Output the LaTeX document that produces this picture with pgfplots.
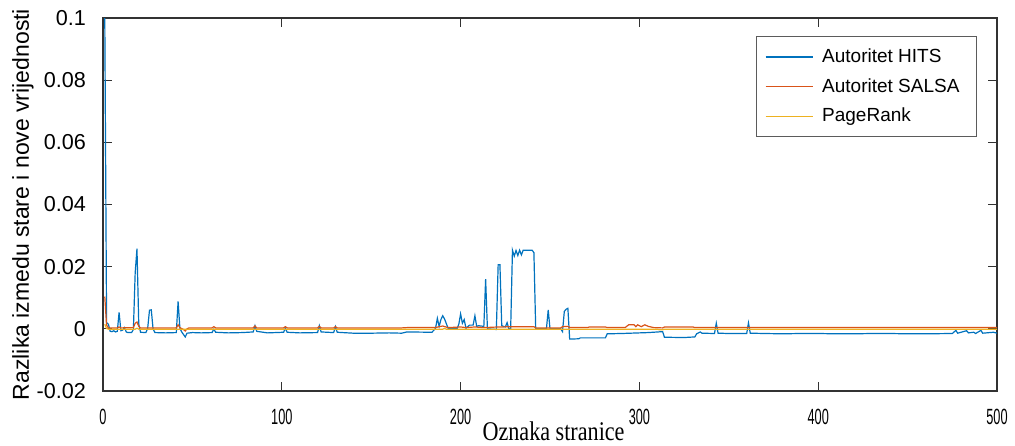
\documentclass[border=0pt]{standalone}
\usepackage{fontspec}
\setmainfont{Liberation Sans}
\newfontfamily\seriffont{Liberation Serif}
\usepackage{graphicx}
\usepackage{pgfplots}
\pgfplotsset{compat=1.18}
\definecolor{hits}{RGB}{0,114,189}
\definecolor{salsa}{RGB}{217,83,25}
\definecolor{prank}{RGB}{237,177,32}
\definecolor{axgray}{RGB}{50,50,50}
\newcommand{\xl}[1]{\scalebox{0.58}[1]{#1}}
\begin{document}
\begin{tikzpicture}
\begin{axis}[name=ax, scale only axis, width=447pt, height=186.5pt,
  xmin=0, xmax=500, ymin=-0.02, ymax=0.1,
  xtick={0,100,200,300,400,500},
  xticklabels={\xl{0},\xl{100},\xl{200},\xl{300},\xl{400},\xl{500}},
  ytick={-0.02,0,0.02,0.04,0.06,0.08,0.1},
  yticklabels={-0.02,0,0.02,0.04,0.06,0.08,0.1},
  tick pos=both, tick align=inside, major tick length=4.5pt,
  axis line style={axgray, line width=0.6pt},
  tick style={axgray, line width=0.5pt},
  xticklabel style={font=\fontsize{11}{12}\selectfont, yshift=-5.5pt},
  yticklabel style={font=\fontsize{10.8}{12}\selectfont, xshift=-5pt},
  ylabel={Razlika izmedu stare i nove vrijednosti},
  ylabel style={font=\fontsize{11.5}{13}\selectfont, at={(axis description cs:-0.0895,0.5)}, anchor=center},
  xlabel={\scalebox{0.82}[1]{\seriffont\fontsize{13.5}{14}\selectfont Oznaka stranice}},
  xlabel style={at={(axis description cs:0.504,0)}, anchor=base, yshift=-24.8pt},
  legend style={at={(rel axis cs:0.9776,0.9517)}, anchor=north east,
    draw=axgray!80, line width=0.5pt, font=\fontsize{9.5}{11}\selectfont,
    inner xsep=4pt, inner ysep=4pt, row sep=2.5pt, cells={anchor=west},
    nodes={inner xsep=4.5pt}},
  legend image code/.code={\draw[#1] (0pt,0pt) -- (23.5pt,0pt);},
  every axis plot/.append style={line width=0.6pt, no markers, sharp plot},
]
\addplot[hits] coordinates {
(1,0.1) (2,0.002) (3,0.0015) (4,-0.0008) (5,-0.0009) (6,-0.0006) (7,-0.0010) (8,-0.0008)
(9,0.0053) (10,-0.0006) (11,-0.0004) (12,0.0004) (13,-0.0010) (14,-0.0012) (16,-0.0012)
(17,-0.0002) (18,0.018) (19,0.0258) (20,0.0015) (21,-0.0011) (24,-0.0012) (25,0.0002)
(26,0.006) (27,0.0061) (28,0.0) (29,-0.0012) (35,-0.0013) (41,-0.0012) (42,0.0088)
(43,0.0002) (44,-0.0010) (46,-0.0026) (47,-0.0014) (50,-0.0012) (55,-0.0013) (61,-0.0012)
(62,-0.0001) (63,-0.0011) (70,-0.0013) (78,-0.0012) (84,-0.0010) (85,0.0010) (86,-0.0008)
(92,-0.0013) (101,-0.0011) (102,0.0002) (103,-0.0011) (110,-0.0013) (120,-0.0012)
(121,0.0010) (122,-0.0010) (129,-0.0012) (130,0.0007) (131,-0.0011) (140,-0.0014)
(150,-0.0014) (160,-0.0013) (167,-0.0014) (170,-0.0010) (184,-0.0011) (186,0.0002)
(187,0.0034) (188,0.0008) (189,0.003) (190,0.0042) (191,0.0032) (193,0.0002) (198,0.0)
(199,0.0015) (200,0.0048) (201,0.0018) (202,0.003) (203,0.0002) (205,0.0012) (207,0.0012)
(208,0.0042) (209,0.0008) (210,0.001) (213,0.0008) (214,0.016) (215,0.0) (220,-0.0002)
(221,0.0206) (222,0.0206) (223,0.001) (225,0.0006) (226,0.002) (227,0.0) (228,0.0)
(229,0.0253) (230,0.0234) (231,0.0252) (232,0.0236) (233,0.0253) (234,0.0238) (235,0.0253)
(240,0.0253) (241,0.0245) (242,0.0) (248,0.0) (249,0.0061) (250,0.0) (256,0.0)
(257,-0.0009) (258,0.0056) (259,0.0063) (260,0.0066) (261,-0.0033) (266,-0.0032)
(267,-0.0029) (281,-0.0029) (282,-0.0016) (290,-0.0015) (300,-0.0013) (305,-0.0012)
(313,-0.0009) (314,-0.0027) (325,-0.0028) (331,-0.0026) (332,-0.0016) (334,-0.0010)
(335,-0.0014) (342,-0.0015) (343,0.0018) (344,-0.0014) (350,-0.0015) (360,-0.0015)
(361,0.0019) (362,-0.0014) (370,-0.0015) (380,-0.0016) (390,-0.0015) (400,-0.0015)
(410,-0.0016) (420,-0.0016) (430,-0.0015) (440,-0.0015) (450,-0.0016) (460,-0.0016)
(475,-0.0015) (477,-0.0005) (478,-0.0014) (483,-0.0006) (484,-0.0013) (487,-0.0011)
(488,-0.0015) (491,-0.0005) (492,-0.0014) (498,-0.0011) (500,-0.0014)
};
\addlegendentry{Autoritet HITS}
\addplot[salsa] coordinates {
(1,0.0104) (2,0.0012) (3,0.0003) (8,0.0003) (9,0.0006) (10,0.0003) (17,0.0004) (18,0.0018)
(19,0.0022) (20,0.0008) (21,0.0003) (41,0.0003) (42,0.0013) (43,0.0004) (45,-0.0002)
(46,-0.0007) (47,0.0000) (48,0.0003) (61,0.0003) (62,0.0007) (63,0.0003) (84,0.0003)
(85,0.0009) (86,0.0003) (101,0.0003) (102,0.0007) (103,0.0003) (120,0.0003) (121,0.0008)
(122,0.0003) (129,0.0003) (130,0.0007) (131,0.0003) (167,0.0003) (170,0.0004) (186,0.0004)
(188,0.0007) (190,0.0009) (193,0.0004) (200,0.0006) (203,0.0004) (208,0.0006) (213,0.0004)
(221,0.0006) (223,0.0006) (228,0.0007) (241,0.0007) (242,0.0003) (256,0.0003) (257,0.0007)
(260,0.0008) (261,0.0004) (271,0.0004) (272,0.0006) (281,0.0006) (282,0.0004) (292,0.0004)
(294,0.0013) (297,0.0013) (298,0.0007) (299,0.0013) (301,0.0007) (303,0.0013) (305,0.0008)
(308,0.0004) (313,0.0003) (314,0.0006) (330,0.0006) (331,0.0004) (500,0.0004)
};
\addlegendentry{Autoritet SALSA}
\addplot[prank] coordinates {
(1,0.0015) (2,0.0001) (3,-0.0001) (18,-0.0001) (19,0.0002) (20,-0.0001) (190,-0.0001) (191,0.0001)
(192,-0.0001) (310,-0.0001) (311,-0.0003) (313,-0.0003) (314,-0.0001) (500,-0.0001)
};
\addlegendentry{PageRank}
\end{axis}
\pgfresetboundingbox
\path ([shift={(-51.5pt,-27pt)}]ax.south west) rectangle ([shift={(9pt,9pt)}]ax.north east);
\end{tikzpicture}
\end{document}
